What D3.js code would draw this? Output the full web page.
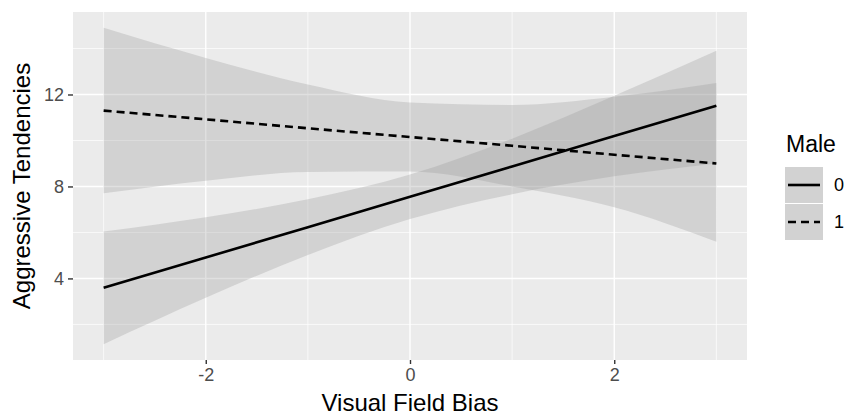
<!DOCTYPE html>
<html>
<head>
<meta charset="utf-8">
<script src="https://cdn.jsdelivr.net/npm/d3@7"></script>
<style>
  body { margin: 0; background: #fff; }
  text { font-family: "Liberation Sans", Arial, Helvetica, sans-serif; }
</style>
</head>
<body>
<div class="chart"></div>
<script>
// values
var xs   = [-3, -2, -1, 0, 1, 2, 3];
var fit0 = [3.59, 4.91, 6.23, 7.55, 8.87, 10.19, 11.51];
var lo0  = [1.14, 3.16, 5.02, 6.58, 7.66, 8.44, 9.00];
var hi0  = [6.04, 6.66, 7.44, 8.52, 10.08, 11.94, 13.90];
var fit1 = [11.30, 10.92, 10.53, 10.15, 9.77, 9.38, 9.00];
var lo1  = [7.70, 8.25, 8.63, 8.65, 8.00, 7.10, 5.60];
var hi1  = [14.90, 13.59, 12.43, 11.65, 11.54, 11.90, 12.50];
var groups = ["0", "1"];
var xTicks = [-2, 0, 2];
var xMinor = [-3, -1, 1, 3];
var yTicks = [4, 8, 12];
var yMinor = [2, 6, 10, 14];

var width = 846, height = 416;
var panel = {left: 73, right: 747, top: 12, bottom: 360};

var svg = d3.select('div.chart').append('svg')
    .attr('width', width)
    .attr('height', height);

var yMin = d3.min(lo0.concat(lo1)), yMax = d3.max(hi0.concat(hi1));
var yPad = (yMax - yMin) * 0.05;
var xPad = (d3.max(xs) - d3.min(xs)) * 0.05;

var xScale = d3.scaleLinear()
    .domain([d3.min(xs) - xPad, d3.max(xs) + xPad])
    .range([panel.left, panel.right]);
var yScale = d3.scaleLinear()
    .domain([yMin - yPad, yMax + yPad])
    .range([panel.bottom, panel.top]);

svg.append('rect')
  .attr('x', panel.left).attr('y', panel.top)
  .attr('width', panel.right - panel.left)
  .attr('height', panel.bottom - panel.top)
  .attr('fill', '#ebebeb');

// grid
svg.selectAll('line.ygrid-minor').data(yMinor).enter().append('line')
  .attr('x1', panel.left).attr('x2', panel.right)
  .attr('y1', d => yScale(d)).attr('y2', d => yScale(d))
  .attr('stroke', '#fff').attr('stroke-width', 0.7);
svg.selectAll('line.xgrid-minor').data(xMinor).enter().append('line')
  .attr('y1', panel.top).attr('y2', panel.bottom)
  .attr('x1', d => xScale(d)).attr('x2', d => xScale(d))
  .attr('stroke', '#fff').attr('stroke-width', 0.7);
svg.selectAll('line.ygrid').data(yTicks).enter().append('line')
  .attr('x1', panel.left).attr('x2', panel.right)
  .attr('y1', d => yScale(d)).attr('y2', d => yScale(d))
  .attr('stroke', '#fff').attr('stroke-width', 1.4);
svg.selectAll('line.xgrid').data(xTicks).enter().append('line')
  .attr('y1', panel.top).attr('y2', panel.bottom)
  .attr('x1', d => xScale(d)).attr('x2', d => xScale(d))
  .attr('stroke', '#fff').attr('stroke-width', 1.4);

var rows = xs.map(function (x, i) {
  return {x: x, fit0: fit0[i], lo0: lo0[i], hi0: hi0[i], fit1: fit1[i], lo1: lo1[i], hi1: hi1[i]};
});

function band(lo, hi) {
  return d3.area()
    .x(d => xScale(d.x))
    .y0(d => yScale(d[lo]))
    .y1(d => yScale(d[hi]))
    .curve(d3.curveMonotoneX);
}

var ribbonOpacity = 0.3;
svg.append('path').attr('d', band('lo0', 'hi0')(rows))
  .attr('fill', '#999999').attr('fill-opacity', ribbonOpacity);
svg.append('path').attr('d', band('lo1', 'hi1')(rows))
  .attr('fill', '#999999').attr('fill-opacity', ribbonOpacity);

var dashes = [null, '8,5'];
['fit0', 'fit1'].forEach(function (key, i) {
  var line = d3.line().x(d => xScale(d.x)).y(d => yScale(d[key]));
  svg.append('path')
    .attr('d', line(rows))
    .attr('fill', 'none')
    .attr('stroke', '#000')
    .attr('stroke-width', 2.6)
    .attr('stroke-dasharray', dashes[i]);
});

// axes
var fmt = d => String(d);
var xAxis = d3.axisBottom(xScale).tickValues(xTicks).tickFormat(fmt).tickSize(4).tickPadding(4);
var gx = svg.append('g')
  .attr('transform', 'translate(0,' + panel.bottom + ')')
  .call(xAxis);
var yAxis = d3.axisLeft(yScale).tickValues(yTicks).tickFormat(fmt).tickSize(5).tickPadding(4);
var gy = svg.append('g')
  .attr('transform', 'translate(' + panel.left + ',0)')
  .call(yAxis);
[gx, gy].forEach(function (g) {
  g.select('.domain').remove();
  g.selectAll('.tick line').attr('stroke', '#333').attr('stroke-width', 1.4);
  g.selectAll('.tick text')
    .attr('fill', '#4d4d4d')
    .style('font-size', '18px')
    .style('font-family', '"Liberation Sans", Arial, sans-serif');
});

svg.append('text')
  .attr('x', (panel.left + panel.right) / 2)
  .attr('y', 411)
  .attr('text-anchor', 'middle')
  .style('font-size', '24px')
  .text('Visual Field Bias');

svg.append('text')
  .attr('transform', 'translate(30,' + ((panel.top + panel.bottom) / 2) + ') rotate(-90)')
  .attr('text-anchor', 'middle')
  .style('font-size', '24px')
  .text('Aggressive Tendencies');

// legend
var legend = svg.append('g').attr('transform', 'translate(785,0)');
legend.append('text')
  .attr('x', 1).attr('y', 152)
  .style('font-size', '23px')
  .text('Male');

var keyW = 38, keyH = 36;
groups.forEach(function (g, i) {
  var y0 = 167 + i * (keyH + 1);
  legend.append('rect').attr('x', 0).attr('y', y0)
    .attr('width', keyW).attr('height', keyH).attr('fill', '#ebebeb');
  legend.append('rect').attr('x', 0).attr('y', y0)
    .attr('width', keyW).attr('height', keyH)
    .attr('fill', '#999999').attr('fill-opacity', ribbonOpacity);
  legend.append('line')
    .attr('x1', 3).attr('x2', keyW - 3)
    .attr('y1', y0 + keyH / 2).attr('y2', y0 + keyH / 2)
    .attr('stroke', '#000').attr('stroke-width', 2.6)
    .attr('stroke-dasharray', dashes[i]);
  legend.append('text')
    .attr('x', keyW + 11).attr('y', y0 + keyH / 2)
    .attr('dy', '0.35em')
    .style('font-size', '18px')
    .text(g);
});
</script>
</body>
</html>
